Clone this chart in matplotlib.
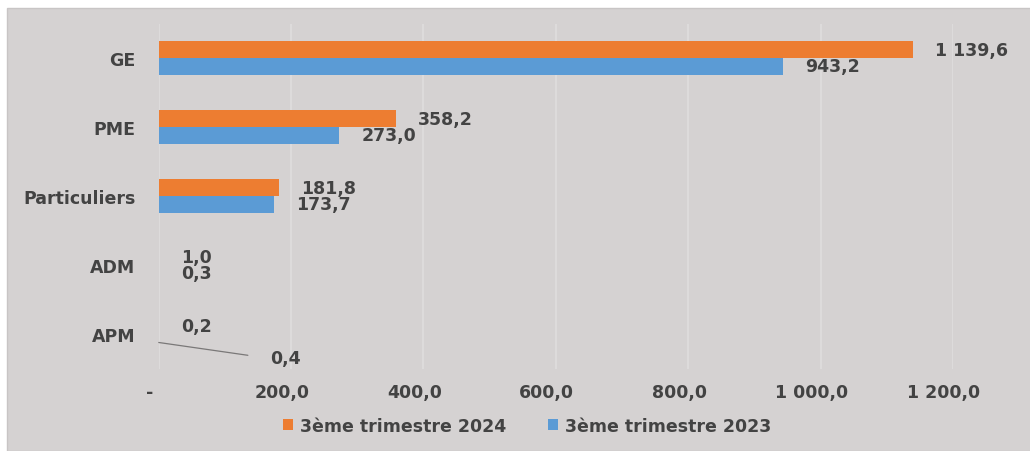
import numpy as np
import matplotlib.pyplot as plt
from matplotlib.patches import Rectangle
import matplotlib.transforms as mtransforms

plt.rcParams['font.family'] = ['DejaVu Sans']
plt.rcParams['font.weight'] = 'bold'

# Encours par type de bénéficiaire (milliards)
categories = ['GE', 'PME', 'Particuliers', 'ADM', 'APM']
t3_2024 = [1139.6, 358.2, 181.8, 1.0, 0.2]
t3_2023 = [943.2, 273.0, 173.7, 0.3, 0.4]
xticks = [0, 200, 400, 600, 800, 1000, 1200]

orange = '#ED7D31'
blue = '#5B9BD5'
bg = '#d5d2d2'
txt = '#434343'
fs = 12.5


def fr(v):
    # french number format: space for thousands, comma for decimals
    if v == 0:
        return '-'
    s = f"{v:,.1f}"
    return s.replace(',', ' ').replace('.', ',')


fig = plt.figure(figsize=(10.30, 4.52), dpi=100, facecolor='white')
fig.patches.append(Rectangle((7 / 1030, 0), 1, 1 - 9 / 452, transform=fig.transFigure,
                             facecolor=bg, edgecolor='#c8c5c5', lw=1, zorder=-10))
ax = fig.add_axes([158.5 / 1030, 82.5 / 452, 794.5 / 1030, 345 / 452])
ax.set_facecolor(bg)

y = np.arange(len(categories))
h = 0.246
ax.barh(y - h / 2, t3_2024, height=h, color=orange, label='3ème trimestre 2024', zorder=3)
ax.barh(y + h / 2, t3_2023, height=h, color=blue, label='3ème trimestre 2023', zorder=3)

ax.set_xlim(0, 1200)
ax.set_ylim(len(categories) - 0.5, -0.5)
ax.set_yticks(y)
ax.set_yticklabels(categories)
ax.set_xticks(xticks)
ax.set_xticklabels([fr(v) for v in xticks])

ax.grid(axis='x', color='#dfdddd', lw=1.2, zorder=1)
for s in ax.spines.values():
    s.set_visible(False)
ax.tick_params(axis='both', length=0, labelsize=fs, labelcolor=txt)
ax.tick_params(axis='x', pad=10.5)
ax.tick_params(axis='y', pad=16.5)
for lab in ax.get_xticklabels():
    lab.set_transform(lab.get_transform() + mtransforms.ScaledTranslation(-0.09, 0, fig.dpi_scale_trans))

# data labels
for i, (a, b) in enumerate(zip(t3_2024, t3_2023)):
    ax.annotate(fr(a), (a, i - h / 2), xytext=(16, 0), textcoords='offset points',
                va='center', ha='left', fontsize=fs, color=txt)
    if categories[i] == 'APM':
        # label pushed below with a leader line
        ax.annotate(fr(b), (b, i + h / 2), xytext=(80, -11.5), textcoords='offset points',
                    va='center', ha='left', fontsize=fs, color=txt,
                    arrowprops=dict(arrowstyle='-', color='#7a7878', lw=0.9,
                                    shrinkA=14, shrinkB=0, relpos=(0, 0.5)))
    else:
        ax.annotate(fr(b), (b, i + h / 2), xytext=(16, 0), textcoords='offset points',
                    va='center', ha='left', fontsize=fs, color=txt)

leg = fig.legend(loc='center', bbox_to_anchor=(527 / 1030, 1 - 427 / 452), ncol=2,
                 frameon=False, fontsize=fs, handlelength=0.6, handleheight=0.6,
                 columnspacing=2.4, handletextpad=0.4)
for t in leg.get_texts():
    t.set_color(txt)

fig.savefig('out.png', dpi=100, facecolor='white')
